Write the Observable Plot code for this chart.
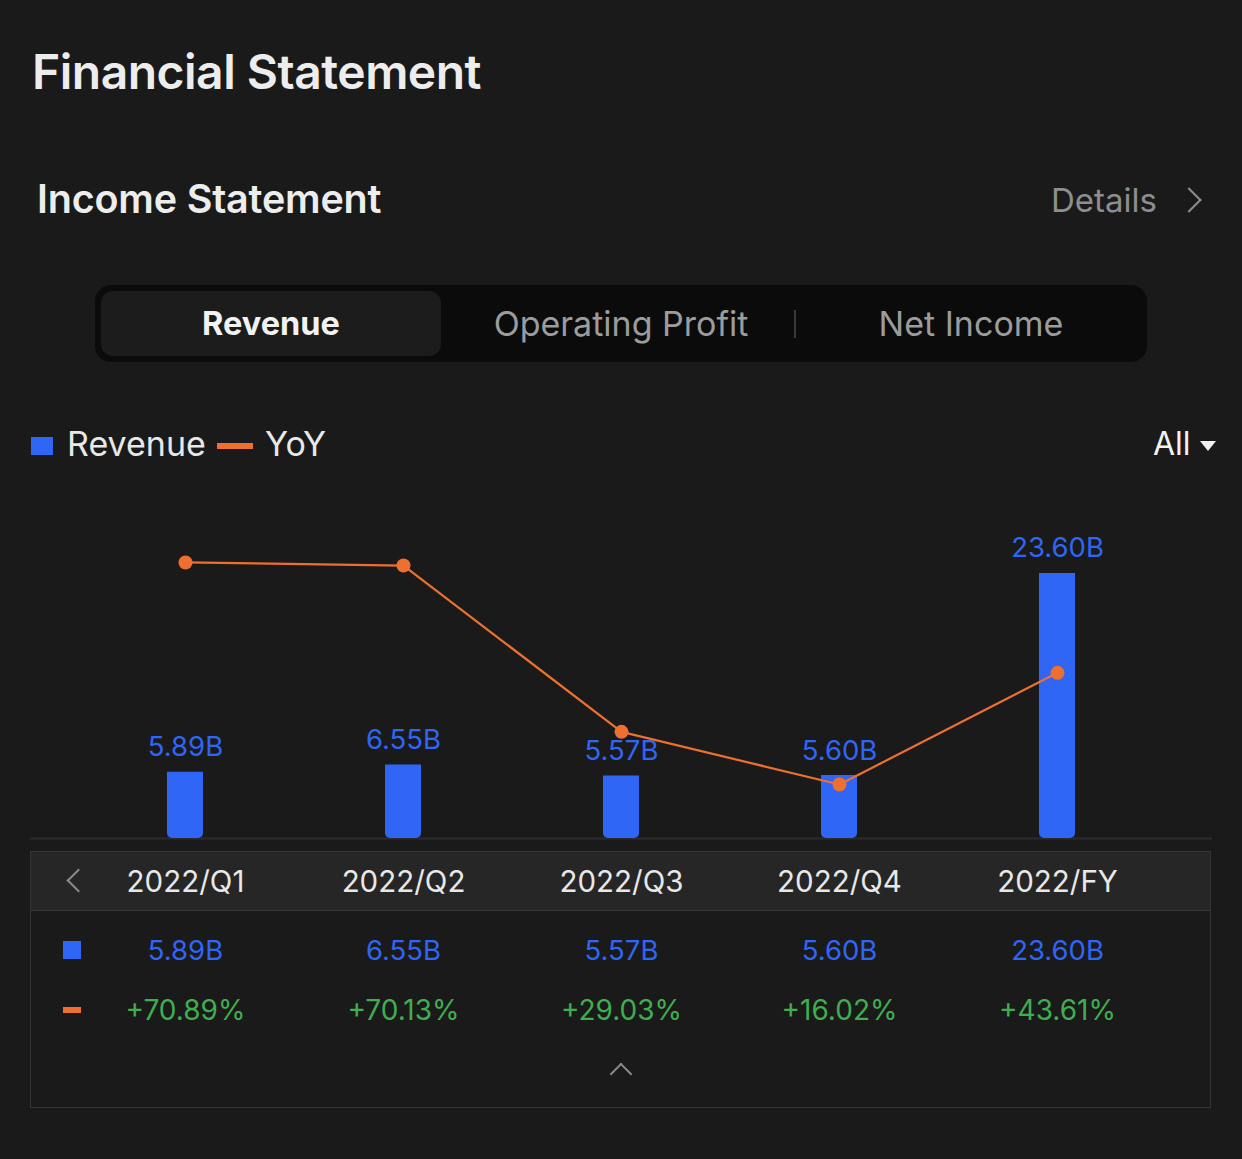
<!DOCTYPE html>
<html>
<head>
<meta charset="utf-8">
<script src="https://cdn.jsdelivr.net/npm/d3@7"></script>
<script src="https://cdn.jsdelivr.net/npm/@observablehq/plot@0.6"></script>
<style>
  html, body { margin: 0; padding: 0; background: #1a1a1a; }
  body { width: 1242px; height: 1159px; position: relative; overflow: hidden; font-family: Inter, "Noto Sans", sans-serif; color: #e8e8e8; }
  .abs { position: absolute; line-height: 1; white-space: nowrap; }
  svg { overflow: visible; }
</style>
</head>
<body>
<script>
// ---- data ----
const periods = ["2022/Q1", "2022/Q2", "2022/Q3", "2022/Q4", "2022/FY"];
const revenue = [5.89, 6.55, 5.57, 5.60, 23.60];   // billions
const yoy = [70.89, 70.13, 29.03, 16.02, 43.61];   // percent
const tabs = ["Revenue", "Operating Profit", "Net Income"];
const legendItems = ["Revenue", "YoY"];

const BLUE = "#2f66f6";
const ORANGE = "#ee7030";
const GREEN = "#3fae4f";

const rows = periods.map((p, i) => ({period: p, revenue: revenue[i], yoy: yoy[i]}));
const fmtRev = d => d.revenue.toFixed(2) + "B";
const fmtYoy = d => (d.yoy >= 0 ? "+" : "") + d.yoy.toFixed(2) + "%";

function el(tag, css, text) {
  const e = document.createElement(tag);
  e.className = "abs";
  e.style.cssText = css;
  if (text != null) e.textContent = text;
  document.body.appendChild(e);
  return e;
}
function place(svg, top) {
  svg.style.position = "absolute";
  svg.style.left = "0px";
  svg.style.top = top + "px";
  document.body.appendChild(svg);
}

// ---- header ----
el("div", "left:32px;top:48px;font-size:48px;font-weight:600;color:#ededed;letter-spacing:-0.5px;", "Financial Statement");
el("div", "left:37px;top:180px;font-size:39.5px;font-weight:600;color:#ededed;letter-spacing:-0.2px;", "Income Statement");
el("div", "right:85px;top:184px;font-size:33px;font-weight:400;color:#8e8e8e;", "Details");
el("div", "left:1180px;top:191px;width:16px;height:16px;border-top:2.5px solid #8e8e8e;border-right:2.5px solid #8e8e8e;transform:rotate(45deg);");

// ---- tabs ----
el("div", "left:95px;top:285px;width:1052px;height:77px;background:#0b0b0b;border-radius:16px;");
el("div", "left:101px;top:291px;width:340px;height:65px;background:#1c1c1c;border-radius:12px;");
const tabCenters = [271, 621, 971];
tabs.forEach((t, i) => {
  el("div", `left:${tabCenters[i] - 200}px;width:400px;text-align:center;` +
    (i === 0 ? "top:308px;font-size:32.5px;font-weight:700;color:#f2f2f2;" : "top:307px;font-size:34px;font-weight:400;color:#9c9c9c;"), t);
});
el("div", "left:794px;top:310px;width:2px;height:28px;background:#3a3a3a;");

// ---- legend ----
el("div", `left:31px;top:437px;width:22px;height:18px;background:${BLUE};`);
el("div", "left:67px;top:427px;font-size:34px;color:#e8e8e8;", legendItems[0]);
el("div", `left:217px;top:443px;width:36px;height:6px;background:${ORANGE};`);
el("div", "left:265px;top:427px;font-size:34px;color:#e8e8e8;", legendItems[1]);
el("div", "left:1153px;top:428px;font-size:32px;color:#f2f2f2;", "All");
el("div", "left:1200px;top:441px;width:0;height:0;border-left:8.5px solid transparent;border-right:8.5px solid transparent;border-top:10px solid #f2f2f2;");

// ---- chart ----
const xScale = {domain: periods, type: "band", paddingInner: 0.835, paddingOuter: 0.4175, axis: null};

const barPlot = Plot.plot({
  width: 1242, height: 370,
  marginLeft: 75, marginRight: 75, marginTop: 20, marginBottom: 12,
  x: xScale,
  y: {domain: [0, 30.1], axis: null},
  style: {background: "transparent", fontFamily: "Inter, sans-serif", overflow: "visible"},
  marks: [
    Plot.ruleY([0], {stroke: "#2c2c2c", strokeWidth: 2, insetLeft: -45, insetRight: -45}),
    Plot.barY(rows, {x: "period", y: "revenue", fill: BLUE, ry2: 5}),
    Plot.text(rows, {x: "period", y: "revenue", text: fmtRev,
      lineAnchor: "bottom", dy: -16, fill: BLUE, fontSize: 27.5})
  ]
});
place(barPlot, 480);

const linePlot = Plot.plot({
  width: 1242, height: 370,
  marginLeft: 75, marginRight: 75, marginTop: 20, marginBottom: 1.2,
  x: xScale,
  y: {domain: [0, 86.2], axis: null},
  style: {background: "transparent", overflow: "visible"},
  marks: [
    Plot.line(rows, {x: "period", y: "yoy", stroke: ORANGE, strokeWidth: 2.2}),
    Plot.dot(rows, {x: "period", y: "yoy", r: 7, fill: ORANGE})
  ]
});
place(linePlot, 480);

// ---- table ----
el("div", "left:30px;top:851px;width:1179px;height:255px;border:1px solid #353535;");
el("div", "left:31px;top:852px;width:1179px;height:58px;background:#262626;border-bottom:1px solid #3a3a3a;");
el("div", "left:70px;top:872px;width:15px;height:15px;border-left:2.5px solid #8a8a8a;border-bottom:2.5px solid #8a8a8a;transform:rotate(45deg);");
el("div", `left:63px;top:941px;width:18px;height:18px;background:${BLUE};`);
el("div", `left:63px;top:1007px;width:18px;height:6px;background:${ORANGE};`);
el("div", "left:613px;top:1066px;width:14px;height:14px;border-left:2.5px solid #8a8a8a;border-top:2.5px solid #8a8a8a;transform:rotate(45deg);");

function rowPlot(centerY, text, fill, fontSize) {
  const h = 50;
  const p = Plot.plot({
    width: 1242, height: h,
    marginLeft: 75, marginRight: 75, marginTop: 0, marginBottom: 0,
    x: xScale,
    style: {background: "transparent", fontFamily: "Inter, sans-serif", overflow: "visible"},
    marks: [
      Plot.text(rows, {x: "period", text, fill, fontSize, frameAnchor: "middle"})
    ]
  });
  place(p, centerY - h / 2);
}
rowPlot(882, "period", "#e8e8e8", 29.5);
rowPlot(951, fmtRev, BLUE, 27.5);
rowPlot(1011, fmtYoy, GREEN, 28);
</script>
</body>
</html>
